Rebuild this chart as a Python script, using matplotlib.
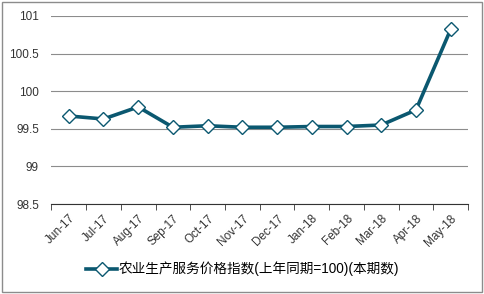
import matplotlib
matplotlib.use('Agg')
import matplotlib.pyplot as plt
from matplotlib.patches import Rectangle

plt.rcParams['font.family'] = ['Liberation Sans', 'Noto Sans CJK SC']

months = ['Jun-17', 'Jul-17', 'Aug-17', 'Sep-17', 'Oct-17', 'Nov-17',
          'Dec-17', 'Jan-18', 'Feb-18', 'Mar-18', 'Apr-18', 'May-18']
index_values = [99.67, 99.63, 99.79, 99.52, 99.54, 99.52,
                99.52, 99.53, 99.53, 99.55, 99.75, 100.82]
series_name = '农业生产服务价格指数(上年同期=100)(本期数)'
y_ticks = [98.5, 99, 99.5, 100, 100.5, 101]
y_labels = ['98.5', '99', '99.5', '100', '100.5', '101']

line_color = '#0b5870'

fig = plt.figure(figsize=(4.85, 2.94), dpi=100)
ax = fig.add_axes([0.106, 0.306, 0.859, 0.64])

x = list(range(len(months)))
ax.plot(x, index_values, color=line_color, lw=2.6, marker='D', ms=7.5,
        mfc='white', mec=line_color, mew=1.0, label=series_name, zorder=3)

ax.set_xlim(-0.5, len(months) - 0.5)
ax.set_ylim(98.5, 101)
ax.set_yticks(y_ticks)
ax.set_yticklabels(y_labels)
ax.yaxis.grid(True, color='#8c8c8c', lw=0.8)
ax.set_axisbelow(True)

ax.set_xticks(x)
ax.set_xticklabels(months, rotation=45, ha='right', rotation_mode='anchor')
ax.set_xticks([i - 0.5 for i in range(len(months) + 1)], minor=True)
ax.tick_params(axis='x', which='major', length=0, pad=6, labelsize=8.5, colors='#333333')
ax.tick_params(axis='x', which='minor', length=4, color='#333333')
ax.tick_params(axis='y', length=0, pad=9, labelsize=8.5, colors='#333333')

for s in ['left', 'right', 'top']:
    ax.spines[s].set_visible(False)
ax.spines['bottom'].set_color('#333333')

fig.legend(loc='center', bbox_to_anchor=(0.5, 0.085), frameon=False,
           fontsize=9.8, handlelength=2.3, handletextpad=0.1)

fig.patches.append(Rectangle((0.004, 0.008), 0.99, 0.985, transform=fig.transFigure,
                             fill=False, ec='#8c8c8c', lw=1))

fig.savefig('out.png', dpi=100)
